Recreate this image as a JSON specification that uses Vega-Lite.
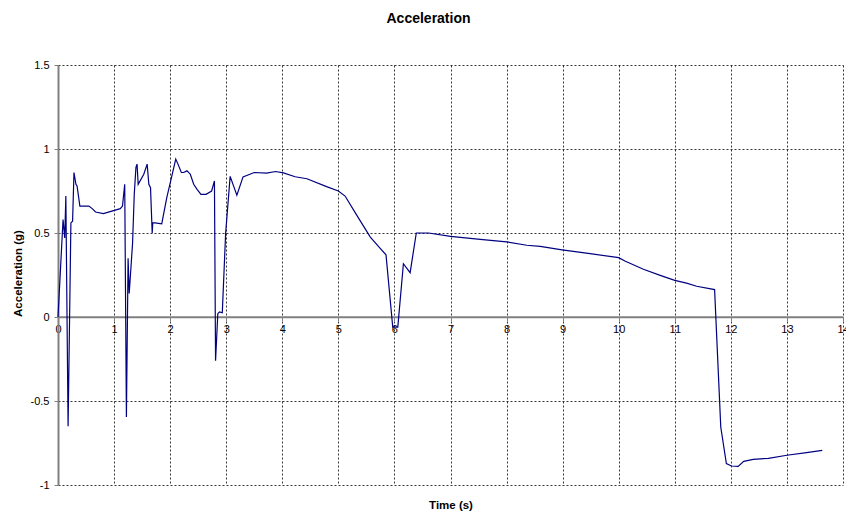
{
  "$schema": "https://vega.github.io/schema/vega-lite/v6.json",
  "autosize": "none",
  "padding": {"left": 58, "top": 65, "right": 3, "bottom": 26},
  "width": 785,
  "height": 420,
  "background": "white",
  "title": {"text": "Acceleration", "fontSize": 14, "font": "Liberation Sans", "fontWeight": "bold", "color": "black", "frame": "group", "offset": 33, "dx": -22},
  "config": {"view": {"stroke": null}, "font": "Liberation Sans"},
  "data": {"values": [
    {"t": 0, "a": 0}, {"t": 0.09, "a": 0.58}, {"t": 0.12, "a": 0.47}, {"t": 0.14, "a": 0.72}, {"t": 0.18, "a": -0.65},
    {"t": 0.23, "a": 0.56}, {"t": 0.26, "a": 0.57}, {"t": 0.285, "a": 0.86}, {"t": 0.32, "a": 0.79}, {"t": 0.34, "a": 0.78},
    {"t": 0.39, "a": 0.66}, {"t": 0.55, "a": 0.66}, {"t": 0.61, "a": 0.645}, {"t": 0.67, "a": 0.625}, {"t": 0.81, "a": 0.615},
    {"t": 0.96, "a": 0.63}, {"t": 1.11, "a": 0.645}, {"t": 1.15, "a": 0.66}, {"t": 1.19, "a": 0.79}, {"t": 1.22, "a": -0.595},
    {"t": 1.25, "a": 0.35}, {"t": 1.27, "a": 0.14}, {"t": 1.33, "a": 0.44}, {"t": 1.36, "a": 0.73}, {"t": 1.39, "a": 0.89},
    {"t": 1.41, "a": 0.91}, {"t": 1.43, "a": 0.79}, {"t": 1.53, "a": 0.85}, {"t": 1.59, "a": 0.91}, {"t": 1.62, "a": 0.79},
    {"t": 1.65, "a": 0.77}, {"t": 1.68, "a": 0.5}, {"t": 1.69, "a": 0.56}, {"t": 1.73, "a": 0.56}, {"t": 1.85, "a": 0.555},
    {"t": 1.94, "a": 0.71}, {"t": 2.01, "a": 0.81}, {"t": 2.1, "a": 0.94}, {"t": 2.14, "a": 0.91}, {"t": 2.2, "a": 0.86},
    {"t": 2.24, "a": 0.86}, {"t": 2.3, "a": 0.87}, {"t": 2.36, "a": 0.85}, {"t": 2.42, "a": 0.79}, {"t": 2.48, "a": 0.76},
    {"t": 2.55, "a": 0.73}, {"t": 2.64, "a": 0.73}, {"t": 2.74, "a": 0.75}, {"t": 2.79, "a": 0.81}, {"t": 2.81, "a": -0.26},
    {"t": 2.85, "a": 0.02}, {"t": 2.88, "a": 0.03}, {"t": 2.93, "a": 0.025}, {"t": 2.99, "a": 0.5}, {"t": 3.07, "a": 0.837},
    {"t": 3.19, "a": 0.725}, {"t": 3.3, "a": 0.834}, {"t": 3.5, "a": 0.86}, {"t": 3.72, "a": 0.857}, {"t": 3.88, "a": 0.866},
    {"t": 4.02, "a": 0.858}, {"t": 4.23, "a": 0.835}, {"t": 4.44, "a": 0.823}, {"t": 4.79, "a": 0.776}, {"t": 5.0, "a": 0.75},
    {"t": 5.12, "a": 0.72}, {"t": 5.33, "a": 0.605}, {"t": 5.57, "a": 0.476}, {"t": 5.75, "a": 0.407}, {"t": 5.85, "a": 0.37},
    {"t": 5.97, "a": -0.06}, {"t": 6.06, "a": -0.06}, {"t": 6.16, "a": 0.317}, {"t": 6.28, "a": 0.264}, {"t": 6.39, "a": 0.5},
    {"t": 6.61, "a": 0.5}, {"t": 7.0, "a": 0.48}, {"t": 7.53, "a": 0.462}, {"t": 8.0, "a": 0.447}, {"t": 8.36, "a": 0.427},
    {"t": 8.6, "a": 0.42}, {"t": 8.99, "a": 0.4}, {"t": 9.49, "a": 0.377}, {"t": 10.0, "a": 0.353}, {"t": 10.11, "a": 0.333},
    {"t": 10.44, "a": 0.284}, {"t": 10.74, "a": 0.248}, {"t": 11.0, "a": 0.218}, {"t": 11.21, "a": 0.202}, {"t": 11.39, "a": 0.183},
    {"t": 11.71, "a": 0.163}, {"t": 11.82, "a": -0.655}, {"t": 11.92, "a": -0.873}, {"t": 12.01, "a": -0.887}, {"t": 12.13, "a": -0.889},
    {"t": 12.23, "a": -0.859}, {"t": 12.4, "a": -0.847}, {"t": 12.67, "a": -0.841}, {"t": 13.0, "a": -0.823}, {"t": 13.35, "a": -0.807},
    {"t": 13.63, "a": -0.794}
  ]},
  "mark": {"type": "line", "color": "#000080", "strokeWidth": 1.2, "interpolate": "linear"},
  "encoding": {
    "x": {
      "field": "t", "type": "quantitative",
      "scale": {"domain": [0, 14], "nice": false, "zero": false},
      "axis": {
        "title": "Time (s)", "titleFontSize": 11.5, "titleFontWeight": "bold", "titleColor": "black", "titleFont": "Liberation Sans",
        "titleY": 183, "titleBaseline": "top",
        "values": [0,1,2,3,4,5,6,7,8,9,10,11,12,13,14],
        "offset": -168.3,
        "grid": true, "gridColor": "black", "gridDash": [2, 2], "gridWidth": 0.8, "gridOpacity": 1,
        "domain": true, "domainColor": "#808080", "domainWidth": 2,
        "ticks": true, "tickColor": "#808080", "tickSize": 4, "tickWidth": 1,
        "labelFontSize": 11, "labelColor": "black", "labelPadding": 3, "labelFont": "Liberation Sans",
        "labelFlush": false, "labelOverlap": false
      }
    },
    "y": {
      "field": "a", "type": "quantitative",
      "scale": {"domain": [-1, 1.5], "nice": false, "zero": false},
      "axis": {
        "title": "Acceleration (g)", "titleFontSize": 11.5, "titleFontWeight": "bold", "titleColor": "black", "titleFont": "Liberation Sans",
        "titleX": -35, "titleY": 208,
        "values": [-1, -0.5, 0, 0.5, 1, 1.5],
        "labelExpr": "datum.value + ''",
        "grid": true, "gridColor": "black", "gridDash": [2, 2], "gridWidth": 0.8, "gridOpacity": 1,
        "domain": true, "domainColor": "#808080", "domainWidth": 2,
        "ticks": true, "tickColor": "#808080", "tickSize": 4, "tickWidth": 1,
        "labelFontSize": 11, "labelColor": "black", "labelPadding": 5, "labelFont": "Liberation Sans",
        "labelFlush": false, "labelOverlap": false
      }
    }
  }
}
